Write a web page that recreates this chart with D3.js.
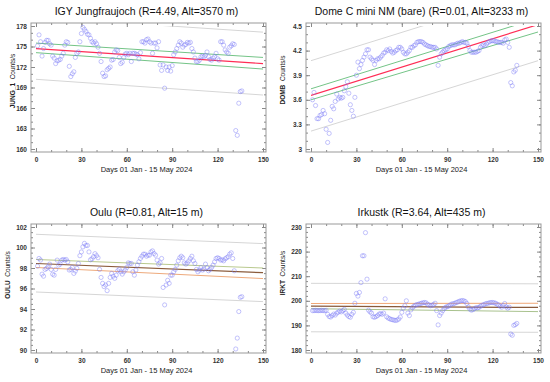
<!DOCTYPE html>
<html>
<head>
<meta charset="utf-8">
<script src="https://cdn.jsdelivr.net/npm/d3@7"></script>
<style>
body { margin: 0; background: #fff; }
svg { display: block; font-family: "Liberation Sans", Arial, sans-serif; }
</style>
</head>
<body>
<script>
// daily count rates, 01 Jan .. 15 May 2024
var days = d3.range(1, 137);

var jungValues = [
  175.1, 176.7, 175.7, 173.6, 174.7, 175.6, 175.9, 175.9, 175.4, 175.2,
  173.6, 173.3, 172.5, 172.9, 173.0, 173.1, 173.6, 174.0, 175.2, 175.7,
  175.6, 172.1, 170.6, 171.0, 171.3, 173.4, 174.0, 174.2, 175.7, 176.9,
  177.8, 177.5, 177.2, 176.8, 176.7, 176.2, 175.7, 175.5, 175.7, 175.4,
  174.9, 174.0, 172.8, 171.1, 170.6, 170.7, 171.6, 171.8, 172.0, 173.0,
  173.1, 174.2, 174.5, 174.4, 173.4, 172.5, 172.7, 173.4, 173.9, 174.0,
  173.8, 174.0, 172.8, 174.0, 174.0, 173.9, 173.8, 173.2, 174.1, 175.7,
  175.7, 175.5, 176.0, 176.1, 175.7, 175.5, 174.0, 175.5, 175.5, 174.8,
  175.7, 172.3, 171.5, 172.3, 168.9, 172.0, 171.5, 172.0, 171.4, 172.2,
  173.8, 174.2, 174.7, 175.2, 175.7, 175.5, 174.9, 175.2, 175.3, 175.6,
  175.5, 175.6, 174.7, 174.2, 173.3, 172.8, 172.8, 173.0, 173.5, 173.6,
  173.5, 173.7, 174.2, 173.5, 173.1, 173.0, 173.3, 173.5, 174.0, 173.2,
  173.0, 175.7, 175.7, 175.2, 174.5, 174.2, 174.0, 174.9, 175.1, 175.4, 175.3,
  162.7, 162.0, 166.7, 168.4, 168.5
];

var dombValues = [
  3.60, 3.69, 3.53, 3.37, 3.37, 3.41, 3.42, 3.47, 3.43, 3.24,
  3.08, 3.19, 3.35, 3.52, 3.49, 3.58, 3.67, 3.61, 3.63, 3.62,
  3.63, 3.71, 3.76, 3.82, 3.68, 3.54, 3.47, 3.40, 3.63, 3.90,
  4.06, 3.98, 4.03, 4.08, 4.12, 4.16, 4.21, 4.21, 4.12, 4.10,
  4.08, 4.03, 4.08, 4.10, 4.10, 4.12, 4.14, 4.17, 4.18, 4.21,
  4.20, 4.22, 4.19, 4.17, 4.18, 4.20, 4.21, 4.24, 4.24, 4.22,
  4.18, 4.16, 4.16, 4.18, 4.20, 4.24, 4.24, 4.26, 4.27, 4.30,
  4.31, 4.31, 4.31, 4.30, 4.28, 4.27, 4.26, 4.25, 4.25, 4.24,
  4.24, 4.24, 4.22, 4.02, 4.12, 4.16, 4.18, 4.20, 4.21, 4.22,
  4.25, 4.26, 4.27, 4.27, 4.27, 4.28, 4.29, 4.29, 4.30, 4.31,
  4.30, 4.30, 4.29, 4.25, 4.20, 4.18, 4.18, 4.18, 4.18, 4.19,
  4.20, 4.24, 4.26, 4.27, 4.26, 4.28, 4.30, 4.31, 4.32, 4.32,
  4.32, 4.31, 4.31, 4.30, 4.30, 4.30, 4.29, 4.33, 4.34, 4.30, 4.24,
  3.81, 3.77, 3.94, 3.96, 4.02
];

var ouluValues = [
  98.18, 98.93, 98.77, 97.40, 97.20, 97.86, 97.96, 98.12, 98.38, 97.86,
  97.40, 97.30, 97.86, 98.77, 98.28, 98.38, 98.77, 98.83, 98.77, 98.83,
  98.60, 97.80, 97.86, 98.05, 97.47, 97.70, 97.96, 98.44, 99.20, 99.57,
  100.06, 100.40, 100.20, 100.20, 99.57, 98.80, 98.90, 99.10, 99.40, 99.20,
  99.00, 97.86, 97.08, 96.50, 96.18, 96.34, 95.79, 96.50, 97.08, 97.47,
  97.20, 96.99, 97.30, 97.73, 97.86, 97.63, 97.40, 97.63, 97.80, 98.05,
  98.50, 98.44, 98.44, 97.63, 97.30, 97.80, 98.28, 98.60, 98.93, 99.15,
  99.35, 99.35, 99.15, 99.25, 99.25, 99.57, 99.67, 99.41, 99.25, 98.77,
  98.38, 98.50, 98.93, 96.10, 94.40, 96.34, 96.80, 96.50, 97.30, 97.30,
  97.63, 97.86, 98.28, 98.70, 99.00, 99.15, 99.00, 98.50, 98.38, 98.50,
  98.70, 98.93, 99.15, 98.70, 98.44, 97.86, 97.63, 97.80, 98.05, 97.80,
  97.90, 98.38, 98.05, 97.73, 97.86, 98.05, 98.28, 98.60, 98.93, 99.00,
  98.93, 98.77, 98.80, 98.70, 98.90, 99.00, 99.10, 99.35, 99.48, 98.93, 97.73,
  90.10, 91.16, 93.75, 95.14, 95.20
];

var irktValues = [
  196.0, 196.0, 196.1, 196.0, 196.0, 196.0, 196.1, 196.0, 196.0, 196.1,
  194.5, 193.6, 193.4, 194.0, 194.6, 194.2, 195.0, 195.4, 195.8, 195.5,
  196.0, 196.5, 195.0, 194.2, 193.6, 193.3, 194.5, 195.3, 199.0, 203.0,
  201.9, 203.4, 207.4, 218.3, 218.3, 227.7, 208.8, 196.2, 195.5, 195.0,
  193.5, 193.3, 193.6, 194.0, 194.6, 194.8, 194.5, 195.0, 200.8, 193.5,
  193.0, 192.7, 192.4, 192.3, 192.1, 192.0, 192.2, 192.6, 193.4, 195.3,
  197.0, 198.0, 200.0, 195.0, 194.0, 196.3, 197.2, 197.8, 198.2, 198.5,
  198.6, 198.8, 199.0, 199.2, 199.3, 199.2, 198.6, 198.3, 198.0, 198.2,
  198.5, 199.0, 196.0, 190.2, 194.0, 195.0, 196.0, 196.8, 197.4, 197.6,
  197.9, 198.3, 198.7, 198.8, 199.0, 199.3, 199.5, 199.8, 200.0, 200.1,
  200.0, 199.7, 198.9, 197.5, 196.6, 196.2, 196.4, 196.8, 197.2, 197.1,
  197.3, 197.8, 198.2, 198.4, 198.7, 198.9, 199.0, 199.2, 199.3, 199.3,
  199.2, 199.0, 198.6, 198.3, 197.8, 197.4, 198.1, 198.9, 197.5, 197.0, 197.4,
  186.5, 186.0, 190.0, 190.3, 190.8
];

// regression line, confidence and prediction bands at day 0 and day 150
var fitDays = [0, 150];
var jungFit = [174.7, 172.5], jungConfHi = [175.5, 173.4], jungConfLo = [174.1, 171.7];
var jungPredHi = [179.3, 177.1], jungPredLo = [170.2, 167.9];
var dombFit = [3.653, 4.517], dombConfHi = [3.734, 4.595], dombConfLo = [3.60, 4.427];
var dombPredHi = [4.077, 4.94], dombPredLo = [3.218, 4.077];
var ouluFit = [98.44, 97.54], ouluConfHi = [98.83, 98.0], ouluConfLo = [98.05, 96.97];
var ouluPredHi = [101.29, 100.38], ouluPredLo = [95.66, 94.72];
var irktFit = [197.8, 197.3], irktConfHi = [198.9, 199.0], irktConfLo = [196.8, 195.6];
var irktPredHi = [207.1, 206.9], irktPredLo = [187.4, 187.2];

var xTicks = [0, 30, 60, 90, 120, 150];
var xMinor = d3.range(0, 151, 10);
var jungTicks = [160, 163, 166, 169, 172, 175, 178];
var dombTicks = [3, 3.3, 3.6, 3.9, 4.2, 4.5];
var ouluTicks = [90, 92, 94, 96, 98, 100, 102];
var irktTicks = [180, 190, 200, 210, 220, 230];

// line colours: [fit, upper conf, lower conf]
var wideBand = ["#ff2d55", "#74c487", "#74c487"];
var ouluBand = ["#8a5a3a", "#b9c98e", "#eeaa7c"];
var irktBand = ["#8a5a3a", "#f0a878", "#a9c28e"];

var panels = [
  {title: "IGY Jungfraujoch (R=4.49, Alt=3570 m)", code: "JUNG_1", values: jungValues,
   fit: jungFit, confHi: jungConfHi, confLo: jungConfLo, predHi: jungPredHi, predLo: jungPredLo,
   colors: wideBand, ticks: jungTicks, minor: 1, left: 31, top: 23, labelX: -19, labelY: 58},
  {title: "Dome C mini NM (bare) (R=0.01, Alt=3233 m)", code: "DOMB", values: dombValues,
   fit: dombFit, confHi: dombConfHi, confLo: dombConfLo, predHi: dombPredHi, predLo: dombPredLo,
   colors: wideBand, ticks: dombTicks, minor: 0.1, left: 306, top: 23, labelX: -24, labelY: 57},
  {title: "Oulu (R=0.81, Alt=15 m)", code: "OULU", values: ouluValues,
   fit: ouluFit, confHi: ouluConfHi, confLo: ouluConfLo, predHi: ouluPredHi, predLo: ouluPredLo,
   colors: ouluBand, ticks: ouluTicks, minor: 0.5, left: 31, top: 224, labelX: -24, labelY: 51},
  {title: "Irkustk (R=3.64, Alt=435 m)", code: "IRKT", values: irktValues,
   fit: irktFit, confHi: irktConfHi, confLo: irktConfLo, predHi: irktPredHi, predLo: irktPredLo,
   colors: irktBand, ticks: irktTicks, minor: 2, left: 306, top: 224, labelX: -24, labelY: 49}
];

var W = 235, H = 129;

var svg = d3.select("body").append("svg")
  .attr("width", 550)
  .attr("height", 382);

panels.forEach(function(p, i) {
  var lo = p.ticks[0], hi = p.ticks[p.ticks.length - 1];
  var x = d3.scaleLinear().domain([0, 150]).range([5, W - 3]);
  var y = d3.scaleLinear().domain([lo, hi]).range([H - 3, 3]);
  var minorTicks = d3.range(lo, hi + p.minor / 2, p.minor);

  var g = svg.append("g").attr("transform", "translate(" + p.left + "," + p.top + ")");

  g.append("defs").append("clipPath").attr("id", "clip" + i)
    .append("rect")
    .attr("x", x(0)).attr("y", y(hi))
    .attr("width", x(150) - x(0)).attr("height", y(lo) - y(hi));

  // axes: ticks pointing inward on all four sides
  function styleAxis(sel) {
    sel.select(".domain").remove();
    sel.selectAll("line").attr("stroke", "#888");
    sel.selectAll("text").attr("fill", "#333").style("font-size", "6.5px").style("font-weight", "bold").style("font-family", "'Liberation Sans', Arial, sans-serif");
  }
  g.append("g").attr("transform", "translate(0," + H + ")")
    .call(d3.axisBottom(x).tickValues(xMinor).tickSize(-2).tickFormat(""))
    .call(styleAxis);
  g.append("g").attr("transform", "translate(0," + H + ")")
    .call(d3.axisBottom(x).tickValues(xTicks).tickSize(-4).tickPadding(5))
    .call(styleAxis);
  g.append("g")
    .call(d3.axisTop(x).tickValues(xMinor).tickSize(-2).tickFormat(""))
    .call(styleAxis);
  g.append("g")
    .call(d3.axisTop(x).tickValues(xTicks).tickSize(-4).tickFormat(""))
    .call(styleAxis);
  g.append("g")
    .call(d3.axisLeft(y).tickValues(minorTicks).tickSize(-2).tickFormat(""))
    .call(styleAxis);
  g.append("g")
    .call(d3.axisLeft(y).tickValues(p.ticks).tickSize(-4).tickPadding(4).tickFormat(d3.format("~g")))
    .call(styleAxis);
  g.append("g").attr("transform", "translate(" + W + ",0)")
    .call(d3.axisRight(y).tickValues(minorTicks).tickSize(-2).tickFormat(""))
    .call(styleAxis);
  g.append("g").attr("transform", "translate(" + W + ",0)")
    .call(d3.axisRight(y).tickValues(p.ticks).tickSize(-4).tickFormat(""))
    .call(styleAxis);

  g.append("rect")
    .attr("width", W).attr("height", H)
    .attr("fill", "none")
    .attr("stroke", "#999")
    .attr("stroke-width", 1);

  var line = d3.line()
    .x(function(d, k) { return x(fitDays[k]); })
    .y(function(d) { return y(d); });

  var lines = g.append("g").attr("clip-path", "url(#clip" + i + ")");
  [[p.predHi, "#d6d6d6", 1], [p.predLo, "#d6d6d6", 1],
   [p.confHi, p.colors[1], 1], [p.confLo, p.colors[2], 1],
   [p.fit, p.colors[0], 1.2]].forEach(function(s) {
    lines.append("path")
      .attr("d", line(s[0]))
      .attr("fill", "none")
      .attr("stroke", s[1])
      .attr("stroke-width", s[2]);
  });

  g.append("g").selectAll("circle")
    .data(p.values)
    .join("circle")
    .attr("cx", function(d, k) { return x(days[k]); })
    .attr("cy", function(d) { return y(d); })
    .attr("r", 2.1)
    .attr("fill", "none")
    .attr("stroke", "#7c7cf6")
    .attr("stroke-opacity", 0.6)
    .attr("stroke-width", 0.75);

  g.append("text")
    .attr("x", W / 2 - 2)
    .attr("y", -8)
    .attr("text-anchor", "middle")
    .style("font-size", "10.5px")
    .attr("fill", "#111")
    .text(p.title);

  g.append("text")
    .attr("x", W / 2 - 2)
    .attr("y", H + 20)
    .attr("text-anchor", "middle")
    .style("font-size", "7.5px")
    .attr("fill", "#222")
    .text("Days 01 Jan - 15 May 2024");

  var yl = g.append("text")
    .attr("transform", "translate(" + p.labelX + "," + p.labelY + ") rotate(-90)")
    .attr("text-anchor", "middle")
    .attr("dominant-baseline", "central")
    .style("font-size", "6.5px")
    .attr("fill", "#222");
  yl.append("tspan").style("font-weight", "bold").text(p.code);
  yl.append("tspan").text("\u00a0 Counts/s");
});
</script>
</body>
</html>
